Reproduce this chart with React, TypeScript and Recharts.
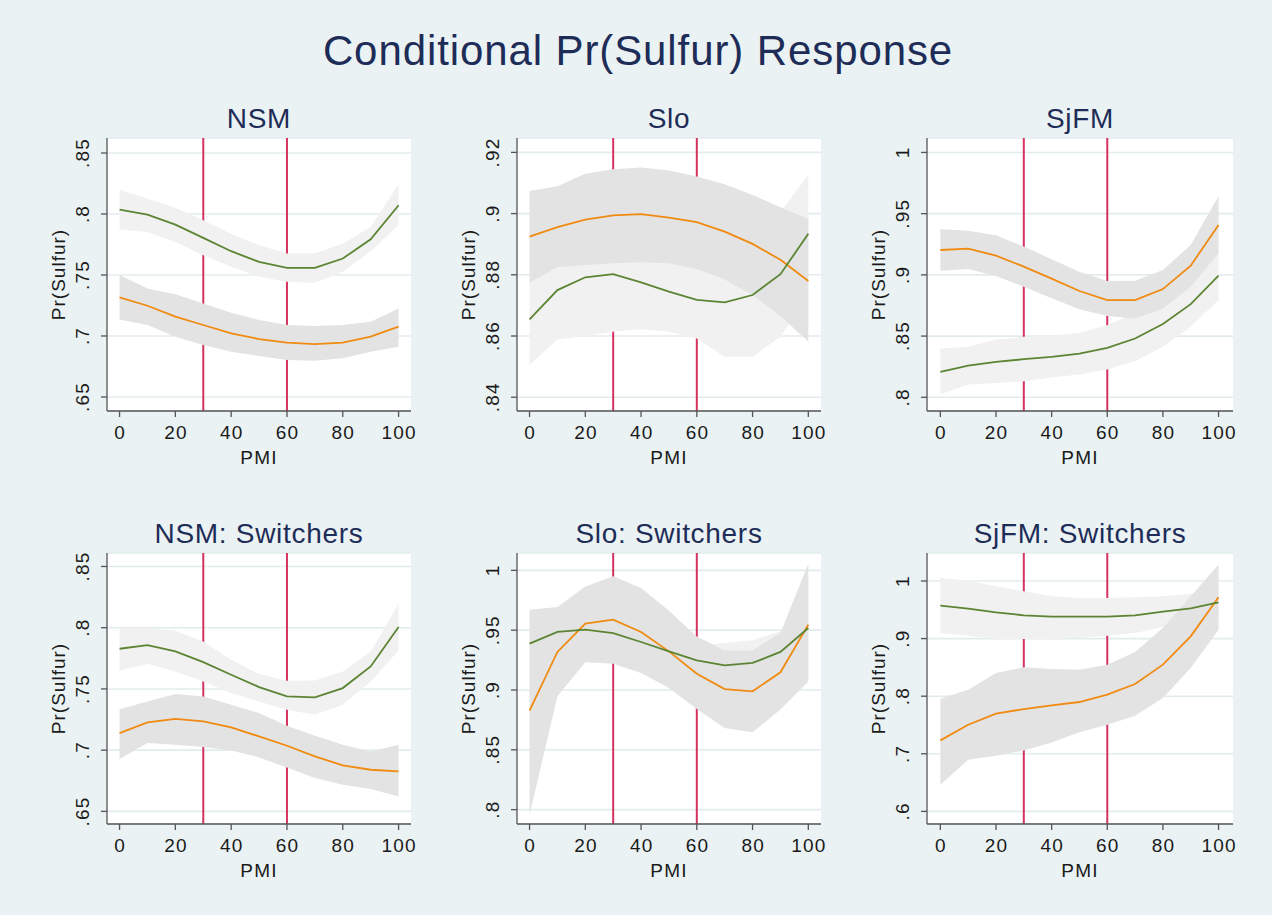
import React from 'react';
import { ComposedChart, Line, Area, XAxis, YAxis, CartesianGrid, ReferenceLine } from 'recharts';

// ---------- data ----------
const pmi = [0, 10, 20, 30, 40, 50, 60, 70, 80, 90, 100];
const xTicks = [0, 20, 40, 60, 80, 100];
const xTickLabels = ['0', '20', '40', '60', '80', '100'];
const thresholds = [30, 60];

const mainTitle = 'Conditional Pr(Sulfur) Response';
const panelTitles = ['NSM', 'Slo', 'SjFM', 'NSM: Switchers', 'Slo: Switchers', 'SjFM: Switchers'];
const xLabel = 'PMI';
const yLabel = 'Pr(Sulfur)';

// NSM
const nsmOrange = [0.7316, 0.7248, 0.7158, 0.709, 0.7021, 0.6975, 0.6945, 0.6934, 0.6945, 0.6994, 0.7076];
const nsmOrangeHi = [0.7499, 0.739, 0.7343, 0.7267, 0.719, 0.713, 0.709, 0.7081, 0.709, 0.7117, 0.7226];
const nsmOrangeLo = [0.7136, 0.709, 0.6994, 0.6926, 0.6871, 0.6836, 0.6803, 0.6797, 0.6817, 0.6871, 0.6912];
const nsmGreen = [0.8036, 0.7995, 0.7913, 0.7804, 0.7695, 0.7607, 0.7558, 0.7558, 0.7635, 0.7793, 0.8072];
const nsmGreenHi = [0.82, 0.8126, 0.8052, 0.7949, 0.7839, 0.7744, 0.7676, 0.7676, 0.7758, 0.7894, 0.8243];
const nsmGreenLo = [0.7872, 0.7853, 0.7771, 0.7662, 0.7567, 0.7485, 0.7444, 0.7436, 0.7526, 0.7695, 0.7908];
const nsmYTicks = [0.65, 0.7, 0.75, 0.8, 0.85];
const nsmYLabels = ['.65', '.7', '.75', '.8', '.85'];

// Slo
const sloOrange = [0.8925, 0.8956, 0.898, 0.8994, 0.8998, 0.8987, 0.8972, 0.8941, 0.8901, 0.8849, 0.878];
const sloOrangeHi = [0.9074, 0.9089, 0.913, 0.9145, 0.9151, 0.9141, 0.9121, 0.9096, 0.9061, 0.9021, 0.8982];
const sloOrangeLo = [0.8774, 0.8825, 0.8832, 0.8838, 0.8841, 0.8838, 0.8819, 0.8785, 0.8734, 0.8665, 0.8581];
const sloGreen = [0.8654, 0.875, 0.8792, 0.8802, 0.8775, 0.8745, 0.8718, 0.871, 0.8734, 0.8802, 0.8934];
const sloGreenHi = [0.881, 0.8905, 0.895, 0.896, 0.8935, 0.891, 0.888, 0.8875, 0.891, 0.9005, 0.9127];
const sloGreenLo = [0.8505, 0.8589, 0.86, 0.8614, 0.8622, 0.8614, 0.8592, 0.8532, 0.8532, 0.8598, 0.8735];
const sloYTicks = [0.84, 0.86, 0.88, 0.9, 0.92];
const sloYLabels = ['.84', '.86', '.88', '.9', '.92'];

// SjFM
const sjOrange = [0.9203, 0.9214, 0.9157, 0.9067, 0.8969, 0.8868, 0.8794, 0.8794, 0.8884, 0.9075, 0.9408];
const sjOrangeHi = [0.9372, 0.9361, 0.9323, 0.9231, 0.9127, 0.9026, 0.895, 0.8952, 0.904, 0.9244, 0.9645];
const sjOrangeLo = [0.9034, 0.9048, 0.899, 0.8903, 0.8808, 0.872, 0.8663, 0.8644, 0.8726, 0.8903, 0.9176];
const sjGreen = [0.8207, 0.8259, 0.8289, 0.8311, 0.833, 0.8357, 0.8404, 0.848, 0.8598, 0.8761, 0.8993];
const sjGreenHi = [0.8396, 0.8412, 0.8472, 0.8494, 0.8502, 0.8527, 0.8589, 0.869, 0.8799, 0.8963, 0.9176];
const sjGreenLo = [0.8025, 0.8104, 0.8117, 0.8131, 0.8161, 0.8186, 0.8226, 0.8297, 0.8412, 0.8576, 0.8794];
const sjYTicks = [0.8, 0.85, 0.9, 0.95, 1];
const sjYLabels = ['.8', '.85', '.9', '.95', '1'];

// NSM: Switchers
const nssOrange = [0.7139, 0.7227, 0.7256, 0.7235, 0.7186, 0.7112, 0.7036, 0.6949, 0.6876, 0.684, 0.6827];
const nssOrangeHi = [0.7335, 0.7398, 0.7458, 0.7439, 0.7371, 0.7303, 0.7199, 0.7118, 0.7044, 0.699, 0.7044];
const nssOrangeLo = [0.6927, 0.7058, 0.7044, 0.7025, 0.6998, 0.6941, 0.6859, 0.6772, 0.6718, 0.6682, 0.6622];
const nssGreen = [0.7828, 0.7858, 0.7806, 0.7719, 0.7616, 0.7515, 0.7439, 0.7431, 0.7507, 0.7684, 0.8005];
const nssGreenHi = [0.7997, 0.7997, 0.7975, 0.7888, 0.7738, 0.7621, 0.7567, 0.7569, 0.7643, 0.7806, 0.8195];
const nssGreenLo = [0.7651, 0.7705, 0.7643, 0.7561, 0.7466, 0.7398, 0.733, 0.7289, 0.7371, 0.7561, 0.7814];
const nssYTicks = [0.65, 0.7, 0.75, 0.8, 0.85];
const nssYLabels = ['.65', '.7', '.75', '.8', '.85'];

// Slo: Switchers
const slsOrange = [0.8827, 0.9318, 0.9554, 0.9588, 0.9485, 0.9323, 0.9136, 0.9008, 0.8989, 0.9148, 0.9546];
const slsOrangeHi = [0.9671, 0.9694, 0.9866, 0.995, 0.9852, 0.9663, 0.9448, 0.9331, 0.9331, 0.9476, 1.0056];
const slsOrangeLo = [0.7958, 0.8947, 0.9231, 0.922, 0.9142, 0.9017, 0.8841, 0.8682, 0.8646, 0.8836, 0.9072];
const slsGreen = [0.9387, 0.9485, 0.9504, 0.9476, 0.9401, 0.9323, 0.9248, 0.9206, 0.9226, 0.9318, 0.9518];
const slsGreenHi = [0.958, 0.962, 0.962, 0.959, 0.952, 0.944, 0.937, 0.9393, 0.9415, 0.949, 0.965];
const slsGreenLo = [0.919, 0.935, 0.939, 0.936, 0.928, 0.921, 0.913, 0.905, 0.906, 0.915, 0.938];
const slsYTicks = [0.8, 0.85, 0.9, 0.95, 1];
const slsYLabels = ['.8', '.85', '.9', '.95', '1'];

// SjFM: Switchers
const sjsOrange = [0.7233, 0.7505, 0.7696, 0.7777, 0.7841, 0.7899, 0.8026, 0.8211, 0.8547, 0.9039, 0.9716];
const sjsOrangeHi = [0.7957, 0.8113, 0.8402, 0.8501, 0.8472, 0.846, 0.8547, 0.8767, 0.9184, 0.9734, 1.0284];
const sjsOrangeLo = [0.6463, 0.6897, 0.6967, 0.7059, 0.7198, 0.7372, 0.7505, 0.7661, 0.7968, 0.8489, 0.9155];
const sjsGreen = [0.9572, 0.952, 0.9456, 0.9404, 0.9381, 0.9381, 0.9381, 0.9404, 0.9467, 0.9525, 0.963];
const sjsGreenHi = [1.0052, 1.0006, 0.9907, 0.9821, 0.9734, 0.9705, 0.9705, 0.9716, 0.9734, 0.9774, 0.99];
const sjsGreenLo = [0.9097, 0.9051, 0.8993, 0.8993, 0.8993, 0.901, 0.9051, 0.9097, 0.9201, 0.928, 0.94];
const sjsYTicks = [0.6, 0.7, 0.8, 0.9, 1];
const sjsYLabels = ['.6', '.7', '.8', '.9', '1'];

// ---------- styling / layout ----------
const FONT = '"Liberation Sans", Arial, Helvetica, sans-serif';
const BG = '#EAF2F3';
const GRID = '#E2ECEE';
const AXIS = '#555555';
const NAVY = '#1E2C58';
const TEXT = '#1a1a1a';
const ORANGE = '#F08A10';
const GREEN = '#5B8433';
const RED = '#D5335F';
const BAND_DARK = '#E3E3E3';
const BAND_LIGHT = '#F1F1F1';

const AXW = 100;
const TOPM = 60;
const XAH = 70;
const RM = 20;

const panels = [
  { title: panelTitles[0], orange: nsmOrange, orangeHi: nsmOrangeHi, orangeLo: nsmOrangeLo, green: nsmGreen, greenHi: nsmGreenHi, greenLo: nsmGreenLo, yTicks: nsmYTicks, yLabels: nsmYLabels,
    L: 107, T: 138, R: 411, B: 411, xDom: [-4.5, 104.45], yDom: [0.6385, 0.8623] },
  { title: panelTitles[1], orange: sloOrange, orangeHi: sloOrangeHi, orangeLo: sloOrangeLo, green: sloGreen, greenHi: sloGreenHi, greenLo: sloGreenLo, yTicks: sloYTicks, yLabels: sloYLabels,
    L: 517, T: 138, R: 821, B: 411, xDom: [-4.5, 104.55], yDom: [0.8355, 0.9247] },
  { title: panelTitles[2], orange: sjOrange, orangeHi: sjOrangeHi, orangeLo: sjOrangeLo, green: sjGreen, greenHi: sjGreenHi, greenLo: sjGreenLo, yTicks: sjYTicks, yLabels: sjYLabels,
    L: 927, T: 138, R: 1233, B: 411, xDom: [-4.8, 105.2], yDom: [0.7888, 1.0118] },
  { title: panelTitles[3], orange: nssOrange, orangeHi: nssOrangeHi, orangeLo: nssOrangeLo, green: nssGreen, greenHi: nssGreenHi, greenLo: nssGreenLo, yTicks: nssYTicks, yLabels: nssYLabels,
    L: 107, T: 553, R: 411, B: 824, xDom: [-4.5, 104.45], yDom: [0.6397, 0.861] },
  { title: panelTitles[4], orange: slsOrange, orangeHi: slsOrangeHi, orangeLo: slsOrangeLo, green: slsGreen, greenHi: slsGreenHi, greenLo: slsGreenLo, yTicks: slsYTicks, yLabels: slsYLabels,
    L: 517, T: 553, R: 821, B: 824, xDom: [-4.5, 104.55], yDom: [0.788, 1.0145] },
  { title: panelTitles[5], orange: sjsOrange, orangeHi: sjsOrangeHi, orangeLo: sjsOrangeLo, green: sjsGreen, greenHi: sjsGreenHi, greenLo: sjsGreenLo, yTicks: sjsYTicks, yLabels: sjsYLabels,
    L: 927, T: 553, R: 1233, B: 824, xDom: [-4.8, 105.2], yDom: [0.5781, 1.0486] },
];

function Panel({ p }: { p: any }) {
  const plotW = p.R - p.L;
  const plotH = p.B - p.T;
  const W = plotW + AXW + RM;
  const H = plotH + TOPM + XAH;
  const rows = pmi.map((x, i) => ({
    x,
    orange: p.orange[i],
    green: p.green[i],
    orangeBand: [p.orangeLo[i], p.orangeHi[i]],
    greenBand: [p.greenLo[i], p.greenHi[i]],
  }));

  const yTick = (props: any) => {
    const { y, payload } = props;
    const idx = p.yTicks.findIndex((t: number) => Math.abs(t - payload.value) < 1e-9);
    const label = idx >= 0 ? p.yLabels[idx] : String(payload.value);
    const bx = AXW - 17.7;
    return (
      <text x={bx} y={y} transform={`rotate(-90 ${bx} ${y})`} textAnchor="middle" fontSize={19} letterSpacing={1.2} fontFamily={FONT} fill={TEXT}>
        {label}
      </text>
    );
  };
  const xTick = (props: any) => {
    const { x, payload } = props;
    const idx = xTicks.findIndex((t) => t === payload.value);
    const label = idx >= 0 ? xTickLabels[idx] : String(payload.value);
    return (
      <text x={x + 0.6} y={TOPM + plotH + 27.6} textAnchor="middle" fontSize={19} letterSpacing={1.2} fontFamily={FONT} fill={TEXT}>
        {label}
      </text>
    );
  };

  return (
    <div style={{ position: 'absolute', left: p.L - AXW, top: p.T - TOPM, width: W, height: H }}>
      <ComposedChart width={W} height={H} data={rows} margin={{ top: TOPM, right: RM, bottom: 0, left: 0 }}>
        <CartesianGrid vertical={false} horizontal stroke={GRID} strokeWidth={1.6} fill="#ffffff" fillOpacity={1} />
        <XAxis
          type="number"
          dataKey="x"
          domain={p.xDom}
          ticks={xTicks}
          interval={0}
          allowDataOverflow
          height={XAH}
          tickSize={6}
          axisLine={{ stroke: AXIS, strokeWidth: 1.3 }}
          tickLine={{ stroke: AXIS, strokeWidth: 1.3 }}
          tick={xTick}
        />
        <YAxis
          type="number"
          domain={p.yDom}
          ticks={p.yTicks}
          interval={0}
          allowDataOverflow
          width={AXW}
          tickSize={6}
          axisLine={{ stroke: AXIS, strokeWidth: 1.3 }}
          tickLine={{ stroke: AXIS, strokeWidth: 1.3 }}
          tick={yTick}
        />
        {thresholds.map((t) => (
          <ReferenceLine key={t} x={t} stroke={RED} strokeWidth={2} zIndex={50} ifOverflow="hidden" />
        ))}
        <Area dataKey="greenBand" type="linear" stroke="none" fill={BAND_LIGHT} fillOpacity={1} isAnimationActive={false} dot={false} activeDot={false} />
        <Area dataKey="orangeBand" type="linear" stroke="none" fill={BAND_DARK} fillOpacity={1} isAnimationActive={false} dot={false} activeDot={false} />
        <Line dataKey="orange" type="linear" stroke={ORANGE} strokeWidth={1.8} dot={false} activeDot={false} isAnimationActive={false} />
        <Line dataKey="green" type="linear" stroke={GREEN} strokeWidth={1.8} dot={false} activeDot={false} isAnimationActive={false} />
      </ComposedChart>
    </div>
  );
}

export default function App() {
  return (
    <div style={{ position: 'absolute', left: 0, top: 0, width: 1272, height: 915, background: BG, overflow: 'hidden', fontFamily: FONT }}>
      <svg width={1272} height={915} style={{ position: 'absolute', left: 0, top: 0 }}>
        <text x={638} y={65} textAnchor="middle" fontSize={42} letterSpacing={0.9} fontFamily={FONT} fill={NAVY}>
          {mainTitle}
        </text>
        {panels.map((p, i) => (
          <g key={i}>
            <text x={(p.L + p.R) / 2} y={p.T - 10} textAnchor="middle" fontSize={28} letterSpacing={0.7} fontFamily={FONT} fill={NAVY}>
              {p.title}
            </text>
            <text x={(p.L + p.R) / 2} y={p.B + 52.6} textAnchor="middle" fontSize={19} letterSpacing={1.2} fontFamily={FONT} fill={TEXT}>
              {xLabel}
            </text>
            <text
              x={p.L - 42.4}
              y={(p.T + p.B) / 2}
              transform={`rotate(-90 ${p.L - 42.4} ${(p.T + p.B) / 2})`}
              textAnchor="middle"
              fontSize={19}
              letterSpacing={1.0}
              fontFamily={FONT}
              fill={TEXT}
            >
              {yLabel}
            </text>
          </g>
        ))}
      </svg>
      {panels.map((p, i) => (
        <Panel key={i} p={p} />
      ))}
    </div>
  );
}
